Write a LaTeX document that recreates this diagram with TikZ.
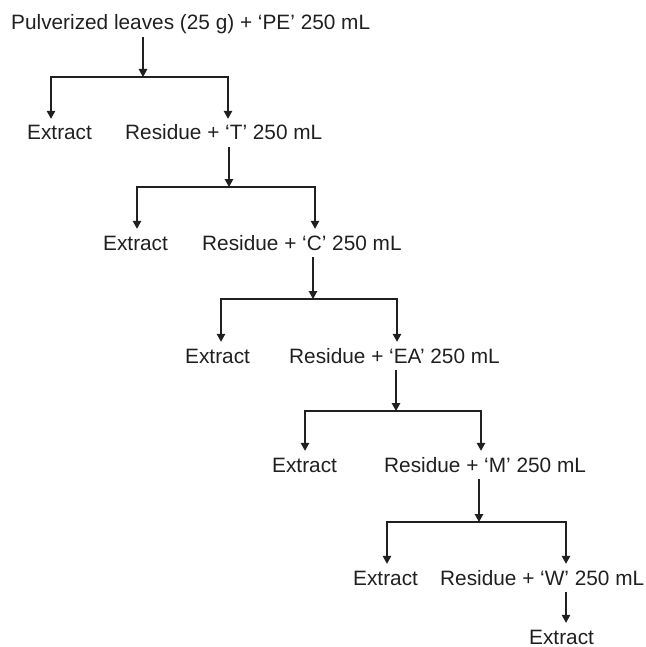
\documentclass[tikz,border=0pt]{standalone}
\usepackage{fontspec}
\setmainfont{Liberation Sans}
\usetikzlibrary{arrows.meta}
\definecolor{ink}{HTML}{202020}
\begin{document}
\begin{tikzpicture}[x=1pt,y=-1pt,
  lbl/.style={anchor=base west,inner sep=0pt,text height=21pt,text depth=7pt,
    text=ink,font=\fontsize{20.8pt}{25pt}\selectfont},
  arr/.style={draw=ink,line width=1.3pt,-{Triangle[width=8.5pt,length=8pt]}}]
\useasboundingbox (0,0) rectangle (645,647);
% texts
\node[lbl] (t0) at (11,30) {Pulverized leaves (25 g) + ‘PE’ 250 mL};
\node[lbl] (e1) at (27,140) {Extract};
\node[lbl] (r1) at (125,140) {Residue + ‘T’ 250 mL};
\node[lbl] (e2) at (103,250) {Extract};
\node[lbl] (r2) at (202,250) {Residue + ‘C’ 250 mL};
\node[lbl] (e3) at (185,363) {Extract};
\node[lbl] (r3) at (289,363) {Residue + ‘EA’ 250 mL};
\node[lbl] (e4) at (272,472) {Extract};
\node[lbl] (r4) at (384,472) {Residue + ‘M’ 250 mL};
\node[lbl] (e5) at (353,585) {Extract};
\node[lbl] (r5) at (440,585) {Residue + ‘W’ 250 mL};
\node[lbl,text depth=0pt] (e6) at (529,644) {Extract};
% junctions and bar ends
\coordinate (j0) at (143,77);  \coordinate (l0) at (51,77);  \coordinate (q0) at (228,77);
\coordinate (j1) at (229,187); \coordinate (l1) at (137,187); \coordinate (q1) at (315,187);
\coordinate (j2) at (313,299); \coordinate (l2) at (221,299); \coordinate (q2) at (397,299);
\coordinate (j3) at (396,411); \coordinate (l3) at (305,411); \coordinate (q3) at (481,411);
\coordinate (j4) at (479,522); \coordinate (l4) at (387,522); \coordinate (q4) at (566,522);
% connectors
\draw[arr] (t0.south -| j0) -- (j0);
\draw[arr] (j0) -| (l0 |- e1.north);
\draw[arr] (j0) -| (q0 |- r1.north);
\draw[arr] (r1.south -| j1) -- (j1);
\draw[arr] (j1) -| (l1 |- e2.north);
\draw[arr] (j1) -| (q1 |- r2.north);
\draw[arr] (r2.south -| j2) -- (j2);
\draw[arr] (j2) -| (l2 |- e3.north);
\draw[arr] (j2) -| (q2 |- r3.north);
\draw[arr] (r3.south -| j3) -- (j3);
\draw[arr] (j3) -| (l3 |- e4.north);
\draw[arr] (j3) -| (q3 |- r4.north);
\draw[arr] (r4.south -| j4) -- (j4);
\draw[arr] (j4) -| (l4 |- e5.north);
\draw[arr] (j4) -| (q4 |- r5.north);
\draw[arr] (r5.south -| q4) -- (q4 |- e6.north);
\end{tikzpicture}
\end{document}
